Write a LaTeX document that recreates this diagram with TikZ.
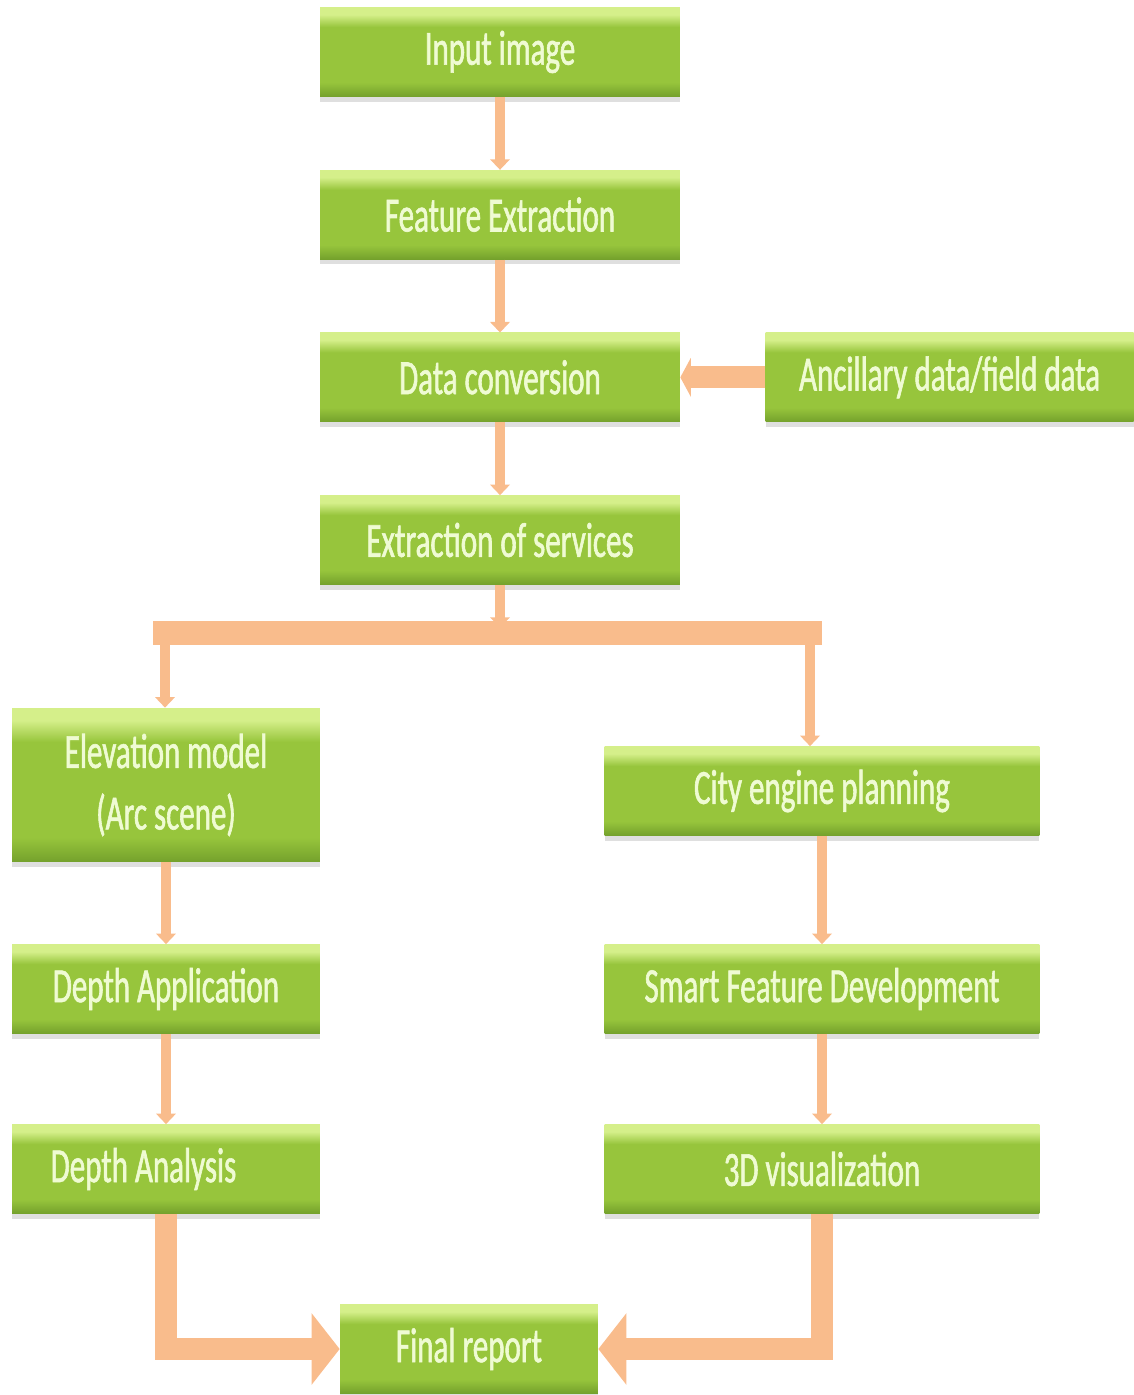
\documentclass[tikz,border=0pt]{standalone}
\usepackage{fontspec}
\setmainfont{Carlito}[FakeStretch=0.63,FakeBold=1.2]
\usepackage{tikz}
\usetikzlibrary{arrows.meta,positioning,shadows,calc}
\definecolor{Leaf}{HTML}{97C53C}
\definecolor{LeafTop}{HTML}{D5EF8A}
\definecolor{LeafLow}{HTML}{74A12C}
\definecolor{Chalk}{HTML}{EFFBD3}
\definecolor{Peach}{HTML}{F9BC8C}
\pgfdeclareverticalshading{leafshade}{100bp}{color(0bp)=(LeafLow); color(25bp)=(LeafLow);
  color(33bp)=(Leaf); color(64bp)=(Leaf); color(71bp)=(LeafTop); color(75bp)=(LeafTop); color(100bp)=(LeafTop)}
\tikzset{
 box/.style={shading=leafshade,
   drop shadow={opacity=0.25,shadow xshift=0pt,shadow yshift=-3pt},
   text=Chalk,align=center,font=\fontsize{28}{35}\selectfont,
   minimum width=7.2cm,minimum height=1.78cm,inner sep=2pt},
 arr/.style={-{Triangle[width=11pt,length=6pt]},line width=5.5pt,draw=Peach},
 sidearr/.style={-{Triangle[width=22pt,length=6pt]},line width=12.5pt,draw=Peach},
 bar/.style={line width=14pt,draw=Peach,line cap=rect},
 bigarr/.style={-{Triangle[width=40pt,length=16pt]},line width=13pt,draw=Peach}
}
\begin{document}
\begin{tikzpicture}[x=0.02cm,y=-0.02cm,node distance=1.46cm]
\useasboundingbox (0,0) rectangle (1133,1395);
% main chain
\node[box] (inp) at (500,52) {Input image};
\node[box,below=of inp] (feat) {Feature Extraction};
\node[box,below=of feat] (conv) {Data conversion};
\node[box,minimum width=7.36cm,right=1.7cm of conv] (anc) {Ancillary data/field data};
\node[box,below=of conv] (serv) {Extraction of services};
% left column
\node[box,minimum width=6.16cm,minimum height=3.08cm] (elev) at (166,785) {Elevation model\\(Arc scene)};
\node[box,minimum width=6.16cm] (dapp) at (166,989) {Depth Application};
\node[box,minimum width=6.16cm] (dana) at (166,1169) {Depth Analysis\hspace*{0.9cm}};
% right column
\node[box,minimum width=8.7cm] (city) at (822,791) {City engine planning};
\node[box,minimum width=8.7cm] (smart) at (822,989) {Smart Feature Development};
\node[box,minimum width=8.7cm] (vis) at (822,1169) {3D visualization};
\node[box,minimum width=5.16cm] (final) at (469,1349) {Final report};
% connectors
\draw[arr] (inp) -- (feat);
\draw[arr] (feat) -- (conv);
\draw[arr] (conv) -- (serv);
\draw[sidearr] (anc) -- (conv);
\coordinate (hub) at ($(serv.south)+(0,43)$);
\coordinate (busL) at (165,633);
\coordinate (busR) at (810,633);
\draw[arr] (serv) -- (hub);
\draw[bar] (busL) -- (busR);
\draw[arr] (busL) -- (busL |- elev.north);
\draw[arr] (busR) -- (busR |- city.north);
\draw[arr] (elev) -- (dapp);
\draw[arr] (dapp) -- (dana);
\draw[arr] (city) -- (smart);
\draw[arr] (smart) -- (vis);
\draw[bigarr] (dana.south) |- (final.west);
\draw[bigarr] (vis.south) |- (final.east);
\end{tikzpicture}
\end{document}
